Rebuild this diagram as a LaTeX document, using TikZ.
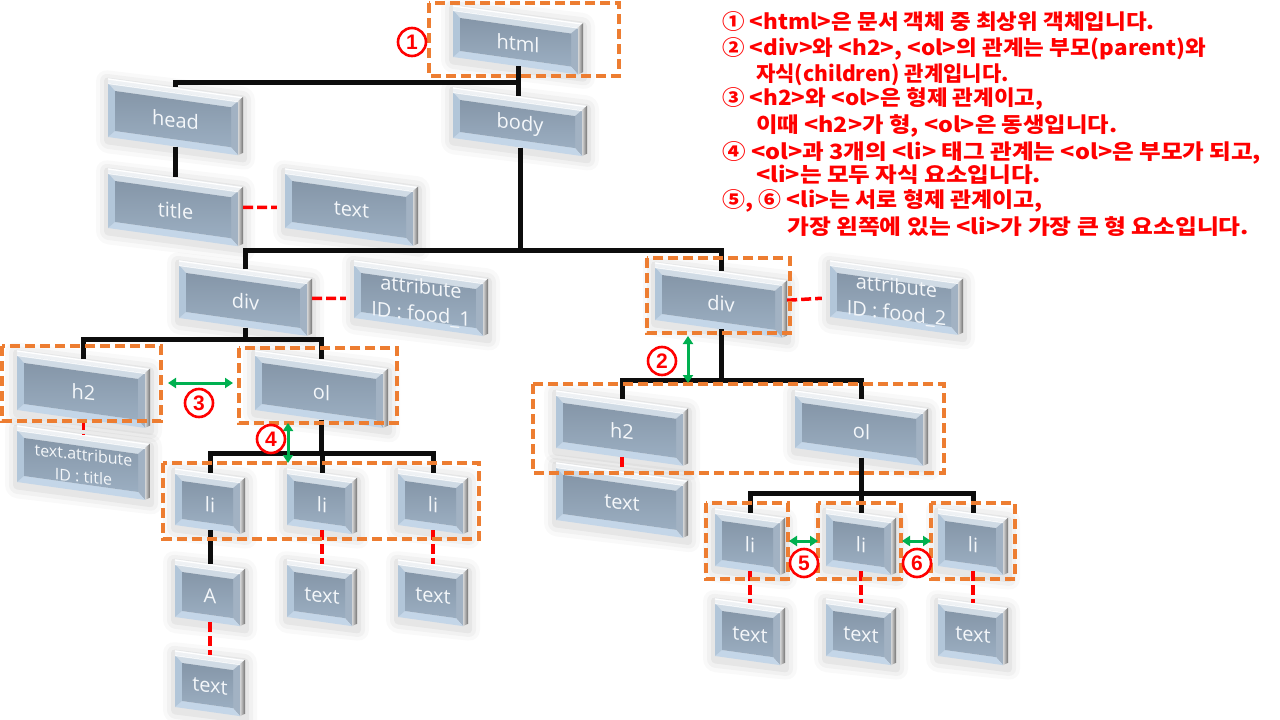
\documentclass[tikz,border=0pt]{standalone}
\usepackage{fontspec}
\usetikzlibrary{arrows.meta,calc}
\newfontfamily\krfont{Noto Sans CJK KR}
\newfontfamily\lblfont{Open Sans}
\newfontfamily\numfont{Liberation Sans}
\definecolor{tred}{HTML}{FF0000}
\definecolor{orng}{HTML}{ED7D31}
\definecolor{grn}{HTML}{00B050}
\definecolor{topf}{HTML}{EEF1F4}
\definecolor{bevT}{HTML}{D0DBE5}
\definecolor{bevL}{HTML}{B2C6D9}
\definecolor{bevB}{HTML}{C4D6E8}
\definecolor{bevR}{HTML}{A2B2C3}
\definecolor{innT}{HTML}{8596A8}
\definecolor{innB}{HTML}{9BAEC1}
\definecolor{lbl}{HTML}{F4F7FA}
\pgfdeclarelayer{bg}
\pgfsetlayers{bg,main}
\tikzset{
  boxanchor/.style={shape=rectangle,inner sep=0pt,draw=none},
  boxlabel/.style={yslant=-0.11,text=lbl,align=center,inner sep=0pt},
  tree/.style={draw=black!95,line width=5pt},
  rdash/.style={draw=tred,line width=3.5pt,dash pattern=on 10pt off 4pt},
  oframe/.style={draw=orng,line width=3.5pt,dash pattern=on 10pt off 5pt},
  garrow/.style={draw=grn,line width=3pt,arrows={Triangle[length=8pt,width=10pt]-Triangle[length=8pt,width=10pt]}},
  cnum/.style={circle,draw=tred,line width=2.6pt,fill=white,text=tred,inner sep=0pt,minimum size=28pt,font=\numfont\bfseries\fontsize{21}{21}\selectfont},
  rtxt/.style={anchor=base west,text=tred,inner sep=0pt,font=\krfont\bfseries\fontsize{21}{21}\selectfont}
}
% #1 name, #2 x0, #3 y0, #4 width, #5 height, #6 label, #7 label font size, #8 line skip
\newcommand\cube[8]{%
 \pgfmathsetmacro\bxw{#4}%
 \pgfmathsetmacro\bxh{#5}%
 \pgfmathsetmacro\bxd{0.14*#4}%
 \pgfmathsetmacro\bxrx{#4-5}%
 \pgfmathsetmacro\bxry{0.14*(#4-5)}%
 \pgfmathsetmacro\bxix{#4-12}%
 \pgfmathsetmacro\bxiy{0.14*(#4-12)}%
 \begin{pgfonlayer}{bg}
 \foreach \ee/\oo in {12/0.022,8/0.03,4/0.045}{%
   \fill[black,opacity=\oo,rounded corners=\ee pt,shift={(#2,#3)}] ({-\ee},{3-\ee}) -- ({\bxw+\ee},{\bxd+3-\ee}) -- ({\bxw+\ee},{\bxd+\bxh+3+\ee}) -- ({-\ee},{\bxh+3+\ee}) -- cycle;}
 \end{pgfonlayer}
 \begin{scope}[shift={(#2,#3)}]
  \fill[topf] (0,0) -- (\bxw,\bxd) -- (\bxrx,{\bxry+5}) -- (0,5) -- cycle;
  \draw[white,line width=1.2pt] (0,1) -- (\bxw,{\bxd+1});
  \shade[left color=black!15,right color=black!55] (\bxrx,{\bxry+5}) -- (\bxw,\bxd) -- (\bxw,{\bxd+\bxh-3}) -- (\bxrx,{\bxry+\bxh}) -- cycle;
  \fill[bevT] (0,5) -- (\bxrx,{\bxry+5}) -- (\bxix,{\bxiy+12}) -- (7,12.98) -- cycle;
  \fill[bevR] (\bxrx,{\bxry+5}) -- (\bxrx,{\bxry+\bxh}) -- (\bxix,{\bxiy+\bxh-7}) -- (\bxix,{\bxiy+12}) -- cycle;
  \fill[bevB] (\bxrx,{\bxry+\bxh}) -- (0,\bxh) -- (7,{\bxh-6.02}) -- (\bxix,{\bxiy+\bxh-7}) -- cycle;
  \fill[bevL] (0,\bxh) -- (0,5) -- (7,12.98) -- (7,{\bxh-6.02}) -- cycle;
  \shade[top color=innT,bottom color=innB] (7,12.98) -- (\bxix,{\bxiy+12}) -- (\bxix,{\bxiy+\bxh-7}) -- (7,{\bxh-6.02}) -- cycle;
  \draw[white,opacity=.8,line width=1.2pt] (0,5.5) -- (\bxrx,{\bxry+5.5});
 \end{scope}
 \node[boxanchor,minimum width=#4pt,minimum height=#5pt] (#1) at ({#2+#4/2},{#3+0.07*#4+#5/2}) {};
 \node[boxlabel,font=\lblfont\fontsize{#7pt}{#8pt}\selectfont] (#1-l) at ({#2+#4/2},{#3+0.07*#4+#5/2+3}) {#6};
}
\begin{document}
\begin{tikzpicture}[x=1pt,y=-1pt]
\useasboundingbox (0,0) rectangle (1280,720);
\begin{pgfonlayer}{bg}
\fill[white] (0,0) rectangle (1280,720);
\end{pgfonlayer}

% boxes
\cube{html}{453}{5}{130}{52}{html}{20}{25}
\cube{head}{108}{78}{135}{59}{head}{20}{25}
\cube{body}{453}{87}{134}{51}{body}{20}{25}
\cube{title}{108}{168}{135}{60}{title}{20}{25}
\cube{txttitle}{285}{168}{133}{60}{text}{20}{25}
\cube{divA}{179}{260}{133}{58}{div}{20}{25}
\cube{attrA}{354}{260}{134}{58}{attribute\\ID : food\_1}{20}{27}
\cube{divB}{655}{262}{132}{58}{div}{20}{25}
\cube{attrB}{830}{260}{133}{57}{attribute\\ID : food\_2}{20}{27}
\cube{htwoA}{17}{350}{133}{60}{h2}{20}{25}
\cube{olA}{255}{350}{133}{60}{ol}{20}{25}
\cube{txtattr}{17}{425}{133}{57}{text.attribute\\ID : title}{16}{22}
\cube{liA1}{175}{468}{70}{57}{li}{20}{25}
\cube{liA2}{287}{468}{70}{57}{li}{20}{25}
\cube{liA3}{398}{468}{70}{57}{li}{20}{25}
\cube{aA}{175}{559}{70}{58}{A}{20}{25}
\cube{tA2}{287}{559}{70}{58}{text}{20}{25}
\cube{tA3}{398}{559}{70}{58}{text}{20}{25}
\cube{tA1}{175}{650}{70}{57}{text}{20}{25}
\cube{htwoB}{556}{390}{132}{58}{h2}{20}{25}
\cube{olB}{795}{390}{133}{58}{ol}{20}{25}
\cube{txtB}{556}{462}{132}{58}{text}{20}{25}
\cube{liB1}{715}{508}{70}{58}{li}{20}{25}
\cube{liB2}{826}{508}{70}{58}{li}{20}{25}
\cube{liB3}{938}{508}{70}{58}{li}{20}{25}
\cube{tB1}{715}{598}{70}{58}{text}{20}{25}
\cube{tB2}{826}{598}{70}{58}{text}{20}{25}
\cube{tB3}{938}{598}{70}{58}{text}{20}{25}

% bus rows
\coordinate (busA) at (0,82);
\coordinate (busB) at (0,250);
\coordinate (busC) at (0,339);
\coordinate (busD) at (0,453);
\coordinate (busE) at (0,380);
\coordinate (busF) at (0,493);

% tree connectors
\draw[tree] (html.south) -- (html.south |- body.north);
\draw[tree] (html.south |- busA) -| (head.north);
\draw[tree] (head.south) -- (title.north);
\draw[tree] (body.south) -- (body.south |- busB);
\draw[tree] (divA.north) |- (divB.north |- busB) -- (divB.north);
\draw[tree] (divA.south) -- (divA.south |- busC);
\draw[tree] (htwoA.north) |- (olA.north |- busC) -- (olA.north);
\draw[tree] (olA.south) -- (olA.south |- busD);
\draw[tree] (liA1.north) |- (liA3.north |- busD) -- (liA3.north);
\draw[tree] (liA2.north) -- (liA2.north |- busD);
\draw[tree] (liA1.south) -- (aA.north);
\draw[tree] (divB.south) -- (divB.south |- busE);
\draw[tree] (htwoB.north) |- (olB.north |- busE) -- (olB.north);
\draw[tree] (olB.south) -- (olB.south |- busF);
\draw[tree] (liB1.north) |- (liB3.north |- busF) -- (liB3.north);
\draw[tree] (liB2.north) -- (liB2.north |- busF);

% red dashed links
\draw[rdash,shorten >=8pt] (title.east) -- (txttitle.west);
\draw[rdash,shorten >=8pt] (divA.east) -- (attrA.west);
\draw[rdash,shorten >=8pt] (divB.east) -- (attrB.west);
\draw[rdash] (htwoA.south) -- (txtattr.north);
\draw[rdash] (htwoB.south) -- (txtB.north);
\draw[rdash] (aA.south) -- (tA1.north);
\draw[rdash] (liA2.south) -- (tA2.north);
\draw[rdash] (liA3.south) -- (tA3.north);
\draw[rdash] (liB1.south) -- (tB1.north);
\draw[rdash] (liB2.south) -- (tB2.north);
\draw[rdash] (liB3.south) -- (tB3.north);

% orange group frames
\draw[oframe] (429,3) rectangle (619,76);
\draw[oframe] (2,346) rectangle (161,421);
\draw[oframe] (239,348) rectangle (397,423);
\draw[oframe] (163,463) rectangle (479,539);
\draw[oframe] (647,258) rectangle (790,333);
\draw[oframe] (533,384) rectangle (944,473);
\draw[oframe] (706,503) rectangle (788,579);
\draw[oframe] (818,503) rectangle (901,579);
\draw[oframe] (931,503) rectangle (1015,579);

% green relation arrows
\coordinate (g3a) at (168,383); \coordinate (g3b) at (233,383);
\coordinate (g4a) at (288,423); \coordinate (g4b) at (288,463);
\coordinate (g2a) at (688,336); \coordinate (g2b) at (688,383);
\coordinate (g5a) at (789,541); \coordinate (g5b) at (818,541);
\coordinate (g6a) at (902,541); \coordinate (g6b) at (931,541);
\draw[garrow] (g3a) -- (g3b);
\draw[garrow] (g4a) -- (g4b);
\draw[garrow] (g2a) -- (g2b);
\draw[garrow] (g5a) -- (g5b);
\draw[garrow] (g6a) -- (g6b);

% circled numbers
\node[cnum] (c1) at (412,42) {1};
\node[cnum] (c2) at (662,361) {2};
\node[cnum] (c3) at (199,403) {3};
\node[cnum] (c4) at (271,439) {4};
\node[cnum] (c5) at (804,563) {5};
\node[cnum] (c6) at (917,563) {6};

% explanation text
\node[rtxt,xscale=1.07] (l1) at (722,29.5) {① <html>은 문서 객체 중 최상위 객체입니다.};
\node[rtxt,xscale=1.07] (l2) at (722,55.5) {② <div>와 <h2>, <ol>의 관계는 부모(parent)와};
\node[rtxt,xscale=1.0] (l3) at (756,81.5) {자식(children) 관계입니다.};
\node[rtxt,xscale=1.07] (l4) at (722,105.5) {③ <h2>와 <ol>은 형제 관계이고,};
\node[rtxt,xscale=1.11] (l5) at (756,132.5) {이때 <h2>가 형, <ol>은 동생입니다.};
\node[rtxt,xscale=1.12] (l6) at (722,159.5) {④ <ol>과 3개의 <li> 태그 관계는 <ol>은 부모가 되고,};
\node[rtxt,xscale=1.12] (l7) at (756,182.5) {<li>는 모두 자식 요소입니다.};
\node[rtxt,xscale=1.09] (l8) at (722,207.5) {⑤, ⑥ <li>는 서로 형제 관계이고,};
\node[rtxt,xscale=1.13] (l9) at (787,234.5) {가장 왼쪽에 있는 <li>가 가장 큰 형 요소입니다.};
\end{tikzpicture}
\end{document}
